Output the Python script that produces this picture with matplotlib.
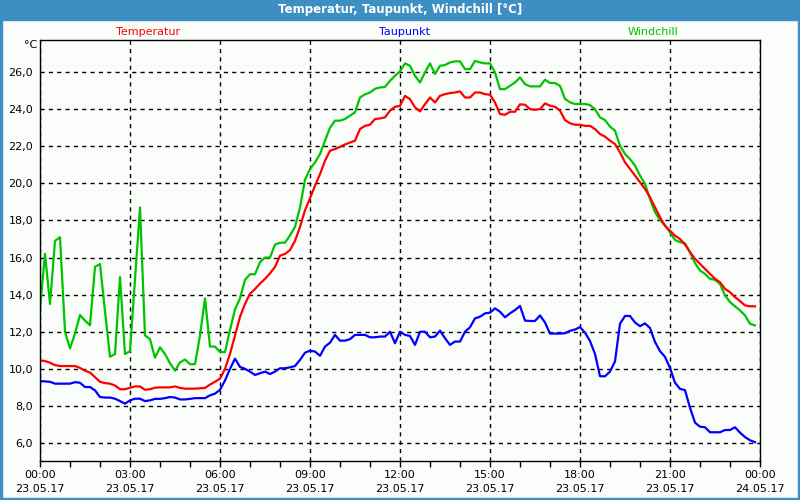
import numpy as np
import pandas as pd
import matplotlib
matplotlib.use('Agg')
import matplotlib.pyplot as plt
import matplotlib.dates as mdates
from matplotlib.patches import Rectangle
from matplotlib.ticker import FuncFormatter

plt.rcParams.update({'font.family': 'DejaVu Sans', 'font.size': 8})

#==============================================================================
# data, 10 minute values 23.05.17 00:00 - 23:50
#==============================================================================
times = pd.date_range('2017-05-23 00:00', periods=144, freq='10min')

temperatur = [
    10.45, 10.42, 10.33, 10.2, 10.15, 10.15,
    10.15, 10.15, 10.05, 9.9, 9.8, 9.55,
    9.3, 9.23, 9.2, 9.1, 8.9, 8.9,
    8.98, 9.05, 9.05, 8.87, 8.9, 8.98,
    9.0, 9.0, 9.0, 9.05, 8.97, 8.93,
    8.93, 8.93, 8.95, 8.97, 9.15, 9.3,
    9.47, 10.0, 10.8, 11.8, 12.8, 13.5,
    14.05, 14.3, 14.6, 14.85, 15.15, 15.5,
    16.1, 16.2, 16.4, 16.9, 17.65, 18.55,
    19.2, 19.87, 20.5, 21.22, 21.76, 21.85,
    21.97, 22.1, 22.2, 22.3, 22.93, 23.1,
    23.16, 23.47, 23.5, 23.56, 23.92, 24.13,
    24.18, 24.72, 24.54, 24.1, 23.88, 24.27,
    24.63, 24.36, 24.72, 24.81, 24.87, 24.9,
    24.96, 24.63, 24.63, 24.9, 24.9, 24.81,
    24.78, 24.36, 23.74, 23.7, 23.86, 23.86,
    24.26, 24.24, 24.0, 23.97, 24.0, 24.31,
    24.19, 24.13, 23.92, 23.41, 23.24, 23.16,
    23.16, 23.1, 23.1, 22.93, 22.66, 22.52,
    22.3, 22.12, 21.67, 21.13, 20.78, 20.42,
    20.06, 19.7, 19.25, 18.71, 18.17, 17.72,
    17.45, 17.18, 17.0, 16.7, 16.29, 15.93,
    15.66, 15.39, 15.12, 14.85, 14.67, 14.31,
    14.13, 13.87, 13.65, 13.42, 13.37, 13.37]

taupunkt = [
    9.34, 9.32, 9.3, 9.2, 9.2, 9.2,
    9.2, 9.28, 9.25, 9.02, 9.02, 8.84,
    8.48, 8.45, 8.45, 8.39, 8.26, 8.12,
    8.3, 8.39, 8.39, 8.26, 8.3, 8.38,
    8.38, 8.42, 8.48, 8.45, 8.35, 8.35,
    8.38, 8.42, 8.42, 8.42, 8.57, 8.66,
    8.87, 9.37, 10.0, 10.55, 10.1, 10.0,
    9.85, 9.67, 9.76, 9.85, 9.72, 9.85,
    10.03, 10.03, 10.08, 10.15, 10.48, 10.87,
    10.98, 10.93, 10.7, 11.2, 11.41, 11.83,
    11.52, 11.52, 11.6, 11.83, 11.83, 11.83,
    11.7, 11.7, 11.74, 11.74, 12.0, 11.38,
    12.0, 11.83, 11.77, 11.29, 12.0, 12.0,
    11.7, 11.74, 12.06, 11.65, 11.29, 11.47,
    11.47, 12.0, 12.24, 12.72, 12.81, 12.99,
    13.03, 13.26, 13.08, 12.78, 12.99, 13.17,
    13.39, 12.6, 12.58, 12.58, 12.88, 12.5,
    11.9, 11.9, 11.9, 11.92, 12.05, 12.12,
    12.25, 11.95, 11.5, 10.8, 9.6, 9.6,
    9.85, 10.4, 12.43, 12.85, 12.85, 12.5,
    12.3, 12.45, 12.2, 11.45, 10.95, 10.65,
    10.05, 9.25, 8.92, 8.85, 7.9, 7.1,
    6.88, 6.85, 6.58, 6.58, 6.58, 6.7,
    6.7, 6.85, 6.56, 6.32, 6.15, 6.04]

windchill = [
    13.24, 16.2, 13.5, 16.9, 17.1, 12.0,
    11.1, 11.9, 12.9, 12.6, 12.35, 15.5,
    15.65, 13.1, 10.65, 10.8, 14.95, 10.8,
    10.95, 14.8, 18.7, 11.8, 11.6, 10.6,
    11.16, 10.8, 10.3, 9.9, 10.35, 10.5,
    10.25, 10.25, 11.8, 13.8, 11.2, 11.2,
    10.9, 10.9, 12.1, 13.2, 13.8, 14.8,
    15.1, 15.1, 15.75, 16.0, 16.0, 16.7,
    16.8, 16.8, 17.2, 17.65, 18.7, 20.2,
    20.77, 21.13, 21.58, 22.3, 23.0, 23.38,
    23.38, 23.47, 23.65, 23.83, 24.63, 24.8,
    24.9, 25.1, 25.17, 25.2, 25.53, 25.8,
    26.04, 26.47, 26.34, 25.8, 25.44, 25.98,
    26.47, 25.9, 26.34, 26.38, 26.52, 26.58,
    26.58, 26.16, 26.16, 26.6, 26.52, 26.47,
    26.47, 25.98, 25.08, 25.08, 25.26, 25.44,
    25.71, 25.35, 25.23, 25.23, 25.23, 25.59,
    25.41, 25.41, 25.26, 24.55, 24.37, 24.28,
    24.28, 24.28, 24.22, 24.0, 23.56, 23.41,
    23.06, 22.84, 22.03, 21.58, 21.31, 20.96,
    20.42, 19.97, 19.16, 18.44, 18.03, 17.72,
    17.36, 16.95, 16.83, 16.77, 16.29, 15.7,
    15.3, 15.12, 14.85, 14.8, 14.58, 13.96,
    13.6, 13.37, 13.15, 12.88, 12.43, 12.34]

series_names = ['Temperatur', 'Taupunkt', 'Windchill']
series_colors = ['#ff0000', '#0000ff', '#00c400']
title = 'Temperatur, Taupunkt, Windchill [°C]'
y_ticks = [6, 8, 10, 12, 14, 16, 18, 20, 22, 24, 26]

#==============================================================================
# PLOTTING
#==============================================================================
bg = '#fbfdfb'
bar_col = '#3d8fc3'

fig = plt.figure(figsize=(8, 5), dpi=100, facecolor=bg)
ax = fig.add_axes([0.05, 0.078, 0.9, 0.842])
ax.set_facecolor(bg)

# title bar and frame
fig.patches.append(Rectangle((0, 0.96), 1, 0.04, transform=fig.transFigure,
                             color=bar_col, zorder=0))
fig.patches.append(Rectangle((0, 0), 0.003, 0.96, transform=fig.transFigure,
                             color=bar_col, zorder=0))
fig.patches.append(Rectangle((0.9975, 0), 0.0025, 0.96, transform=fig.transFigure,
                             color=bar_col, zorder=0))
fig.patches.append(Rectangle((0, 0), 1, 0.004, transform=fig.transFigure,
                             color=bar_col, zorder=0))
fig.text(0.5, 0.98, title, ha='center', va='center', color='white',
         fontsize=8.5, fontweight='bold')

# series
ax.plot(times, windchill, color=series_colors[2], lw=1.6)
ax.plot(times, temperatur, color=series_colors[0], lw=1.6)
ax.plot(times, taupunkt, color=series_colors[1], lw=1.6)

# legend labels above the axes
for xpos, name, col in zip([0.185, 0.506, 0.816], series_names, series_colors):
    fig.text(xpos, 0.936, name, ha='center', va='center', color=col, fontsize=8)

fig.text(0.047, 0.91, '°C', ha='right', va='center', fontsize=8)

# axes
ax.set_xlim(pd.Timestamp('2017-05-23 00:00'), pd.Timestamp('2017-05-24 00:00'))
ax.set_ylim(5.03, 27.73)
ax.set_yticks(y_ticks)
ax.yaxis.set_major_formatter(FuncFormatter(lambda v, p: ('%.1f' % v).replace('.', ',')))

ax.xaxis.set_major_locator(mdates.HourLocator(byhour=range(0, 24, 3)))
ax.xaxis.set_minor_locator(mdates.HourLocator())
ax.xaxis.set_major_formatter(mdates.DateFormatter('%H:%M\n%d.%m.%y'))

ax.tick_params(axis='y', length=0, pad=5, labelsize=8)
ax.tick_params(axis='x', which='both', length=4, width=1, direction='out',
               pad=2.5, labelsize=8)
for lbl in ax.get_xticklabels():
    lbl.set_linespacing(1.45)

ax.grid(True, which='major', color='black', linestyle=(0, (3, 3)), linewidth=1)
for sp in ax.spines.values():
    sp.set_color('black')
    sp.set_linewidth(1)

plt.savefig('out.png', dpi=100, facecolor=bg)
